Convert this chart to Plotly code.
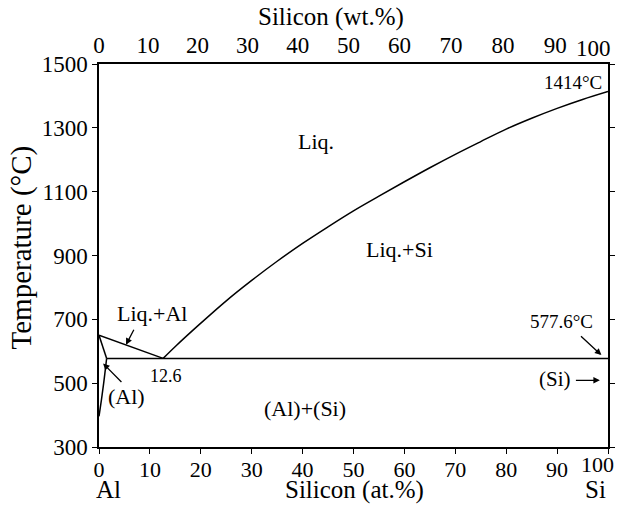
import plotly.graph_objects as go

# Al-Si binary phase diagram (composition in at.% Si, temperature in deg C)
AL_MELT = 650.0
SI_MELT = 1414.0
EUTECTIC_T = 577.6
EUTECTIC_X = 12.6
AL_SOLUBILITY = 1.5

# Si liquidus from the eutectic up to the Si melting point
liq_si_x = [EUTECTIC_X, 15, 20, 25, 30, 35, 40, 45, 50, 55, 60, 65, 70, 75, 80, 85, 90, 95, 100]
liq_si_t = [EUTECTIC_T, 615, 688, 758, 822, 882, 938, 990, 1040, 1086, 1131, 1175, 1217,
            1257, 1296, 1330, 1361, 1389, SI_MELT]

# Al-side liquidus and solidus
liq_al_x = [0, EUTECTIC_X]
liq_al_t = [AL_MELT, EUTECTIC_T]
sol_al_x = [0, AL_SOLUBILITY]
sol_al_t = [AL_MELT, EUTECTIC_T]

# Solvus of Si in (Al)
solvus_x = [AL_SOLUBILITY, 0.92, 0.47, 0]
solvus_t = [EUTECTIC_T, 500, 447, 396]

# Eutectic isotherm
eut_x = [AL_SOLUBILITY, 100]
eut_t = [EUTECTIC_T, EUTECTIC_T]

# Axis ticks
at_ticks = [0, 10, 20, 30, 40, 50, 60, 70, 80, 90, 100]
wt_ticks = [0, 10, 20, 30, 40, 50, 60, 70, 80, 90, 100]
t_ticks = [300, 500, 700, 900, 1100, 1300, 1500]

M_AL, M_SI = 26.982, 28.086


def wt_to_at(w):
    a = w / M_SI
    b = (100 - w) / M_AL
    return 100 * a / (a + b)


FONT = "Liberation Serif"
TICK_SIZE = 23
line_style = dict(color="black", width=1.5)

fig = go.Figure()
for xs, ts, shape in [(liq_si_x, liq_si_t, "spline"), (liq_al_x, liq_al_t, "linear"),
                      (sol_al_x, sol_al_t, "linear"), (solvus_x, solvus_t, "spline"),
                      (eut_x, eut_t, "linear")]:
    fig.add_trace(go.Scatter(x=xs, y=ts, mode="lines", line=dict(line_style, shape=shape),
                             showlegend=False, hoverinfo="skip", cliponaxis=False))

# invisible trace carrying the wt.% axis
fig.add_trace(go.Scatter(x=[0, 100], y=[300, 300], xaxis="x2", mode="lines",
                         line=dict(width=0), showlegend=False, hoverinfo="skip"))

region = dict(family=FONT, size=22, color="black")
note = dict(family=FONT, size=19, color="black")
labels = [
    ("Liq.", 42.7, 1256),
    ("Liq.+Si", 59.1, 920),
    ("Liq.+Al", 10.4, 718),
    ("(Al)+(Si)", 40.5, 420),
]
for t, x, y in labels:
    fig.add_annotation(x=x, y=y, text=t, showarrow=False, font=region)

fig.add_annotation(x=99.3, y=1442, text="1414°C", showarrow=False, font=note, xanchor="right")
fig.add_annotation(x=13.1, y=523, text=str(EUTECTIC_X), showarrow=False,
                   font=dict(note, size=18))

# Labels with arrows
arrow = dict(showarrow=True, arrowhead=2, arrowsize=1, arrowwidth=1.3, arrowcolor="black",
             axref="x", ayref="y")
fig.add_annotation(x=98.7, y=588, ax=94.4, ay=651, text="", **arrow)
fig.add_annotation(x=90.8, y=692, text="577.6°C", showarrow=False, font=note)
fig.add_annotation(x=98.4, y=509, ax=93.4, ay=509, text="", **arrow)
fig.add_annotation(x=89.5, y=512, text="(Si)", showarrow=False, font=dict(region, size=21))
fig.add_annotation(x=0.8, y=562, ax=4.7, ay=499, text="", **arrow)
fig.add_annotation(x=5.4, y=457, text="(Al)", showarrow=False, font=region)
fig.add_annotation(x=5.3, y=620, ax=7.0, ay=672, text="", **arrow)

# End labels "100" kept inside the page
tick_font = dict(family=FONT, size=TICK_SIZE, color="black")
xtick_font = dict(family=FONT, size=22, color="black")
fig.add_annotation(x=100, y=0, yref="paper", text=str(at_ticks[-1]), showarrow=False,
                   xanchor="right", yanchor="top", xshift=8, yshift=-3, font=xtick_font)
fig.add_annotation(x=wt_to_at(wt_ticks[-1]), y=1, yref="paper", text=str(wt_ticks[-1]),
                   showarrow=False, xanchor="right", yanchor="bottom", xshift=5, yshift=1,
                   font=tick_font)

# Element labels and axis titles
bottom_font = dict(family=FONT, size=25, color="black")
BOTTOM_Y = -0.112
fig.add_annotation(x=0, y=BOTTOM_Y, yref="paper", text="Al", showarrow=False, xanchor="left",
                   yanchor="middle", font=bottom_font, xshift=-5)
fig.add_annotation(x=100, y=BOTTOM_Y, yref="paper", text="Si", showarrow=False, xanchor="right",
                   yanchor="middle", font=bottom_font, xshift=0)
fig.add_annotation(x=0.5, y=BOTTOM_Y, xref="paper", yref="paper", text="Silicon (at.%)",
                   showarrow=False, yanchor="middle", xshift=1, font=bottom_font)
fig.add_annotation(x=0.455, y=1.124, xref="paper", yref="paper", text="Silicon (wt.%)",
                   showarrow=False, yanchor="middle", font=dict(family=FONT, size=25))
fig.add_annotation(x=-0.152, y=0.52, xref="paper", yref="paper", text="Temperature (°C)",
                   showarrow=False, textangle=-90, xanchor="center", yanchor="middle",
                   font=dict(family=FONT, size=29))

axis_common = dict(showline=True, linecolor="black", linewidth=1.5, showgrid=False, zeroline=False,
                   automargin=False)

fig.update_layout(
    width=619, height=505,
    margin=dict(l=99, r=11, t=64, b=58),
    paper_bgcolor="white", plot_bgcolor="white",
    font=dict(family=FONT, color="black"),
    xaxis=dict(range=[0, 100], tickvals=at_ticks,
               ticktext=[str(v) for v in at_ticks[:-1]] + [""],
               ticks="outside", ticklen=5, tickwidth=1.3, ticklabelstandoff=-3,
               tickcolor="black", mirror=False, tickfont=xtick_font, **axis_common),
    xaxis2=dict(range=[0, 100], overlaying="x", side="top",
                tickvals=[wt_to_at(w) for w in wt_ticks],
                ticktext=[str(w) for w in wt_ticks[:-1]] + [""],
                ticks="", tickfont=tick_font, **axis_common),
    yaxis=dict(range=[300, 1500], tickvals=t_ticks, ticks="outside", ticklen=5, tickwidth=1.3,
               tickcolor="black", mirror="ticks", tickfont=tick_font, **axis_common),
)

fig.write_html("out.html")
